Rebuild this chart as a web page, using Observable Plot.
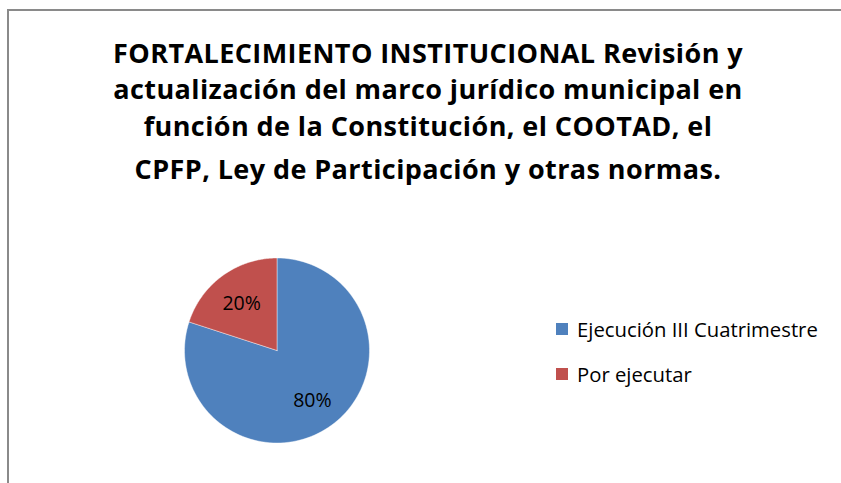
<!DOCTYPE html>
<html><head><meta charset="utf-8">
<script src="https://cdn.jsdelivr.net/npm/d3@7"></script>
<script src="https://cdn.jsdelivr.net/npm/@observablehq/plot@0.6"></script>
<style>
body{margin:0;background:#fff;}
#wrap{position:relative;width:841px;height:483px;overflow:hidden;font-family:"Open Sans",Lato,sans-serif;color:#000;}
#frame{position:absolute;left:7px;top:9px;width:900px;height:600px;border-left:2px solid #8a8a8a;border-top:2px solid #8a8a8a;}
#chart{position:absolute;left:0;top:0;}
.tl{position:absolute;left:0;width:856px;text-align:center;font-weight:bold;line-height:36px;white-space:nowrap;}
.lg{position:absolute;left:556px;display:flex;align-items:center;line-height:24px;white-space:nowrap;}
.sw{width:12px;height:12px;margin-right:9px;flex:none;}
</style></head>
<body><div id="wrap"><div id="chart"></div><div id="frame"></div></div>
<script>
const titleLines = [
  "FORTALECIMIENTO INSTITUCIONAL Revisión y",
  "actualización del marco jurídico municipal en",
  "función de la Constitución, el COOTAD, el",
  "CPFP, Ley de Participación y otras normas."
];
const categories = ["Ejecución III Cuatrimestre", "Por ejecutar"];
const values = [80, 20];
const colors = ["#4F81BD", "#C0504D"];
const labels = ["80%", "20%"];

const ctx = document.createElement("canvas").getContext("2d");
function measure(text, weight, size) {
  ctx.font = `${weight} ${size}px "Open Sans"`;
  return ctx.measureText(text).width;
}
const titleSize = 27;
const titleSpacing = Math.max(0, Math.min(1.2, (630 - measure(titleLines[0], "bold", titleSize)) / titleLines[0].length));
const legendSize = Math.min(21, 100 * 241 / measure(categories[0], "normal", 100));

const wrap = document.getElementById("wrap");
const tops = [35, 71, 108, 151];
titleLines.forEach((t, i) => {
  const d = document.createElement("div");
  d.className = "tl"; d.style.top = tops[i] + "px"; d.style.fontSize = titleSize + "px";
  d.style.letterSpacing = titleSpacing + "px"; d.textContent = t;
  wrap.appendChild(d);
});
categories.forEach((c, i) => {
  const d = document.createElement("div");
  d.className = "lg"; d.style.top = (317 + i * 45) + "px"; d.style.fontSize = legendSize + "px";
  d.innerHTML = `<div class="sw" style="background:${colors[i]}"></div><span>${c}</span>`;
  wrap.appendChild(d);
});

const arcs = d3.pie().sort(null).value(d => d)(values);
const pts = [];
arcs.forEach((a, i) => {
  const n = 120;
  pts.push({cat: categories[i], x: 0, y: 0});
  for (let k = 0; k <= n; k++) {
    const t = a.startAngle + (a.endAngle - a.startAngle) * k / n;
    pts.push({cat: categories[i], x: Math.sin(t), y: Math.cos(t)});
  }
  pts.push({cat: categories[i], x: 0, y: 0});
});
const lab = arcs.map((a, i) => {
  const m = (a.startAngle + a.endAngle) / 2;
  return {text: labels[i], x: 0.65 * Math.sin(m), y: 0.65 * Math.cos(m)};
});

const R = 92.5, cx = 276.5, cy = 350, W = 841, H = 483;
const plot = Plot.plot({
  width: W, height: H, margin: 0,
  style: {background: "transparent", overflow: "visible"},
  x: {domain: [-cx / R, (W - cx) / R], axis: null},
  y: {domain: [-(H - cy) / R, cy / R], axis: null},
  color: {domain: categories, range: colors},
  marks: [
    Plot.line(pts, {x: "x", y: "y", z: "cat", fill: "cat", stroke: "#ffffff", strokeWidth: 0.6, strokeOpacity: 0.7, curve: "linear"}),
    Plot.text(lab, {x: "x", y: "y", text: "text", fontSize: 19.5, dy: 2, fill: "#000", fontFamily: "Open Sans, sans-serif"})
  ]
});
document.getElementById("chart").appendChild(plot);
</script></body></html>
